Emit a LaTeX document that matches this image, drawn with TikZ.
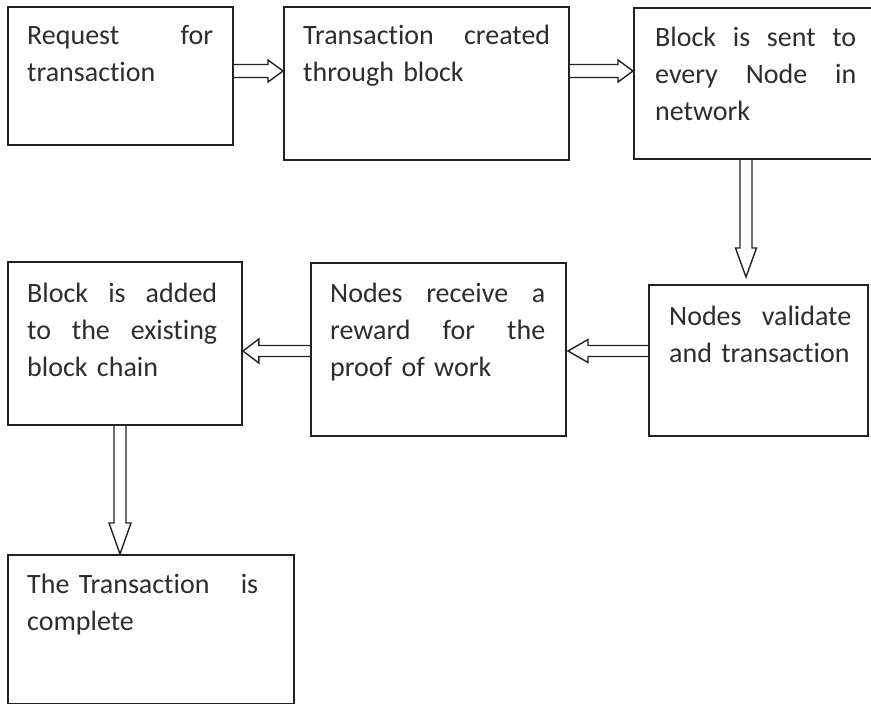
\documentclass[tikz,border=0pt]{standalone}
\usepackage{fontspec}
\setmainfont[Ligatures=NoCommon]{Carlito}
\usetikzlibrary{calc}
\definecolor{ink}{RGB}{34,34,34}
\definecolor{txt}{RGB}{45,45,45}
\tikzset{
  box/.style={draw=ink, line width=1.9pt, rectangle, inner sep=0pt, anchor=north west},
  boxtext/.style={anchor=base west, inner sep=0pt, text width=#1, align=left, text=txt,
    font=\fontsize{28}{37}\selectfont},
  arrowline/.style={draw=ink, line width=1.4pt, line join=miter},
}
% right, left, down hollow arrows: start, tip, head length, head half-width, shaft half-width
\newcommand\arrRight[5]{\draw[arrowline] ($(#1)+(0,-#5)$) -- ($(#2)+(-#3,-#5)$) -- ($(#2)+(-#3,-#4)$) -- (#2) -- ($(#2)+(-#3,#4)$) -- ($(#2)+(-#3,#5)$) -- ($(#1)+(0,#5)$);}
\newcommand\arrLeft[5]{\draw[arrowline] ($(#1)+(0,-#5)$) -- ($(#2)+(#3,-#5)$) -- ($(#2)+(#3,-#4)$) -- (#2) -- ($(#2)+(#3,#4)$) -- ($(#2)+(#3,#5)$) -- ($(#1)+(0,#5)$);}
\newcommand\arrDown[5]{\draw[arrowline] ($(#1)+(-#5,0)$) -- ($(#2)+(-#5,-#3)$) -- ($(#2)+(-#4,-#3)$) -- (#2) -- ($(#2)+(#4,-#3)$) -- ($(#2)+(#5,-#3)$) -- ($(#1)+(#5,0)$);}
\begin{document}
\begin{tikzpicture}[x=1pt, y=-1pt]
\clip (0,0) rectangle (871,704);
\fill[white] (0,0) rectangle (871,704);

% boxes
\node[box, minimum width=225pt, minimum height=138pt] (b1) at (7,6) {};
\node[box, minimum width=285pt, minimum height=153pt] (b2) at (283,6) {};
\node[box, minimum width=245pt, minimum height=151pt] (b3) at (633,7) {};
\node[box, minimum width=219pt, minimum height=151pt] (b4) at (648,284) {};
\node[box, minimum width=255pt, minimum height=173pt] (b5) at (310,262) {};
\node[box, minimum width=234pt, minimum height=163pt] (b6) at (7,261) {};
\node[box, minimum width=286pt, minimum height=149pt] (b7) at (7,554) {};

% texts
\node[boxtext=186pt] (t1) at (27,45) {Request\hfill for\\transaction};
\node[boxtext=247pt] (t2) at (303,45) {Transaction\hfill created\\through block};
\node[boxtext=201pt] (t3) at (655,46) {Block\hfill is\hfill sent\hfill to\\every\hfill Node\hfill in\\network};
\node[boxtext=182pt] (t4) at (669,325) {Nodes\hfill validate\\and transaction};
\node[boxtext=215pt] (t5) at (330,302) {Nodes\hfill receive\hfill a\\reward\hfill for\hfill the\\proof of work};
\node[boxtext=190pt] (t6) at (27,302) {Block\hfill is\hfill added\\to\hfill the\hfill existing\\block chain};
\node[boxtext=231pt] (t7) at (27,593) {The Transaction\hfill is\\complete};

% connectors
\coordinate (a1s) at (b1.east |- 0,71);
\coordinate (a1e) at (b2.west |- 0,71);
\arrRight{a1s}{a1e}{15}{11}{6.5}
\coordinate (a2s) at (b2.east |- 0,71);
\coordinate (a2e) at (b3.west |- 0,71);
\arrRight{a2s}{a2e}{15}{11}{6.5}
\coordinate (a3s) at (b3.south -| 746,0);
\coordinate (a3e) at (746,277);
\arrDown{a3s}{a3e}{29}{10.5}{6}
\coordinate (a4s) at (b4.west |- 0,351);
\coordinate (a4e) at (568,351);
\arrLeft{a4s}{a4e}{20}{11.5}{5.5}
\coordinate (a5s) at (b5.west |- 0,351);
\coordinate (a5e) at (b6.east |- 0,351);
\arrLeft{a5s}{a5e}{16}{12}{5.5}
\coordinate (a6s) at (b6.south -| 120,0);
\coordinate (a6e) at (b7.north -| 120,0);
\arrDown{a6s}{a6e}{31}{11}{6}
\end{tikzpicture}
\end{document}
